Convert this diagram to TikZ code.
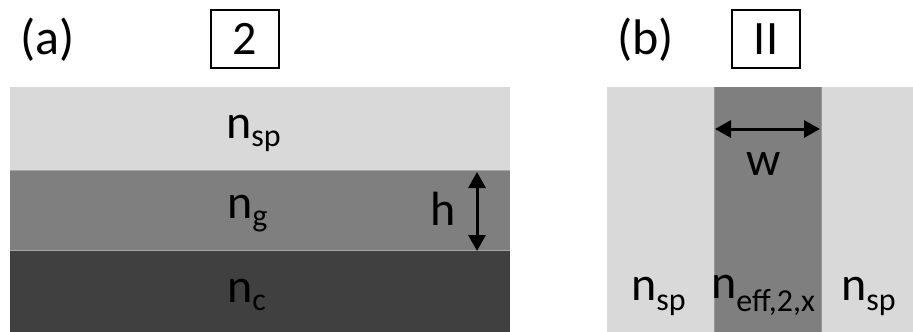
\documentclass[tikz,border=0pt]{standalone}
\usepackage{fontspec}
\setmainfont{Carlito}
\usetikzlibrary{arrows.meta, positioning}
\definecolor{clad}{HTML}{D9D9D9}
\definecolor{guide}{HTML}{7F7F7F}
\definecolor{subst}{HTML}{404040}
\newcommand{\lsub}[2][8pt]{\raisebox{-#1}{\fontsize{32}{34}\selectfont #2}}
\tikzstyle{lbl}   = [inner sep=0pt, anchor=base west, font=\fontsize{48}{52}\selectfont]
\tikzstyle{tag}   = [lbl, font=\fontsize{50}{54}\selectfont]
\tikzstyle{frame} = [draw, line width=2pt, minimum width=68pt, minimum height=58pt, inner sep=0pt, font=\fontsize{48}{52}\selectfont]
\tikzstyle{dim}   = [draw, line width=3pt, {Triangle[width=17pt,length=16pt]}-{Triangle[width=17pt,length=16pt]}]

\begin{document}
\begin{tikzpicture}[x=1pt, y=-1pt]
\useasboundingbox (0,0) rectangle (913,332);

% layers (a)
\fill [clad]  (10,87)  rectangle (510,170);
\fill [guide] (10,170) rectangle (510,250);
\fill [subst] (10,250) rectangle (510,332);
\draw [gray!70, line width=0.8pt] (10,170) -- (510,170) (10,250) -- (510,250);
% layers (b)
\fill [clad]  (607,87) rectangle (913,332);
\fill [guide] (714,87) rectangle (821,332);
\draw [gray!80, line width=0.8pt] (714,87) -- (714,332) (821,87) -- (821,332);

% nodes
\node [tag]   at ( 20, 54) (a)   {(a)};
\node [frame] at (245, 39) (two) {2};
\node [tag]   at (617, 54) (b)   {(b)};
\node [frame] at (766, 39) (ii)  {II};

\node [lbl] at (226,138) (nsp)  {n\lsub{sp}};
\node [lbl] at (227,218) (ng)   {n\lsub{g}};
\node [lbl] at (227,302) (nc)   {n\lsub{c}};
\node [lbl] at (430,225) (h)    {h};

\node [lbl, anchor=base] at (764,175) (w) {w};
\node [lbl] at (631,300) (nspl) {n\lsub[10pt]{sp}};
\node [lbl] at (711,298) (neff) {n\lsub[13pt]{eff,2,x}};
\node [lbl] at (841,300) (nspr) {n\lsub[10pt]{sp}};

\coordinate (htop) at (477,172);
\coordinate (hbot) at (477,251);
\coordinate (wl)   at (715,129);
\coordinate (wr)   at (820,129);

% edges
\path [dim] (htop) -- (hbot);
\path [dim] (wl) -- (wr);

\end{tikzpicture}
\end{document}
